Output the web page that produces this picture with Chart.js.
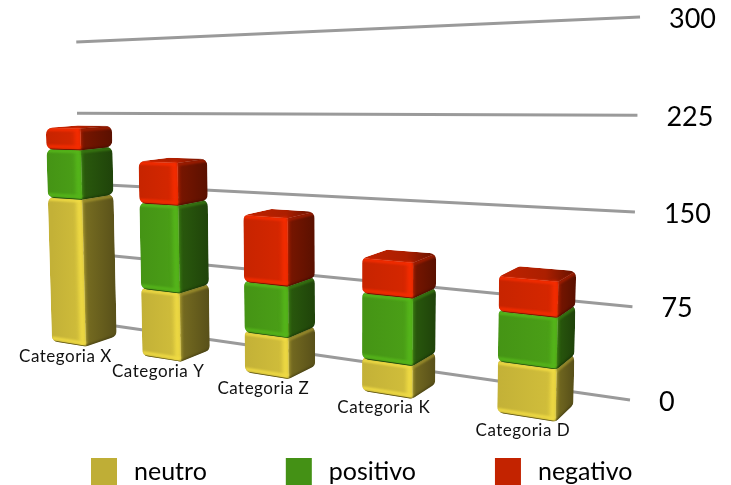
<!DOCTYPE html>
<html>
<head>
<meta charset="utf-8">
<title>Categorias</title>
<style>
  html, body { margin: 0; background: #fff; }
  canvas { display: block; }
</style>
<script src="https://cdn.jsdelivr.net/npm/chart.js@4/dist/chart.umd.js"></script>
</head>
<body>
<canvas id="boxes" width="731" height="485"></canvas>
<script>
const categories = ["Categoria X", "Categoria Y", "Categoria Z", "Categoria K", "Categoria D"];
const neutro = [145, 64, 36, 27, 40];
const positivo = [48, 81, 45, 55, 39];
const negativo = [21, 39, 59, 29, 27];
const seriesNames = ["neutro", "positivo", "negativo"];
const seriesColors = ["#bfae36", "#449115", "#c32300"];

// vanishing points of the three box directions, plus the foot of the value axis
const origin = { x: 630, y: 400 };
const vpRow = { x: -1400, y: 108 };
const vpUp = { x: 355, y: 10900 };
const vpDepth = { x: 930, y: 60 };
const rowPull = 0.3725;
const upPull = -0.0352;
const frontDepth = -0.08;
const backDepth = -0.033;

const uiFont = "Lato, 'Open Sans', sans-serif";

function project(area, px, py, depth) {
  const a = rowPull * (area.right - px) / area.width;
  const t = upPull * (area.bottom - py) / area.height;
  const w = 1 + a + t + depth;
  return {
    x: (origin.x + a * vpRow.x + t * vpUp.x + depth * vpDepth.x) / w,
    y: (origin.y + a * vpRow.y + t * vpUp.y + depth * vpDepth.y) / w,
  };
}

function shade(hex, f) {
  const n = parseInt(hex.slice(1), 16);
  const c = [n >> 16, (n >> 8) & 255, n & 255].map((v) => Math.min(255, Math.round(v * f)));
  return `rgb(${c[0]},${c[1]},${c[2]})`;
}

function roundedPath(ctx, pts, r) {
  const last = pts[pts.length - 1];
  const first = pts[0];
  ctx.beginPath();
  ctx.moveTo((last.x + first.x) / 2, (last.y + first.y) / 2);
  pts.forEach((p, i) => {
    const next = pts[(i + 1) % pts.length];
    ctx.arcTo(p.x, p.y, next.x, next.y, r);
  });
  ctx.closePath();
}

function fillQuad(ctx, pts, style) {
  ctx.beginPath();
  pts.forEach((p, i) => (i ? ctx.lineTo(p.x, p.y) : ctx.moveTo(p.x, p.y)));
  ctx.closePath();
  ctx.fillStyle = style;
  ctx.fill();
}

function softLine(ctx, a, b, color, width, blur, dx = 0, dy = 0) {
  ctx.save();
  ctx.filter = `blur(${blur}px)`;
  ctx.strokeStyle = color;
  ctx.lineWidth = width;
  ctx.beginPath();
  ctx.moveTo(a.x + dx, a.y + dy);
  ctx.lineTo(b.x + dx, b.y + dy);
  ctx.stroke();
  ctx.restore();
}

// the stacked rects from the bar controller, drawn as rounded boxes
function drawBox(ctx, area, bar, color) {
  const left = bar.x - bar.width / 2;
  const right = bar.x + bar.width / 2;
  const P = (px, py, d) => project(area, px, py, d);

  const fl0 = P(left, bar.base, frontDepth);
  const fr0 = P(right, bar.base, frontDepth);
  const br0 = P(right, bar.base, backDepth);
  const fl1 = P(left, bar.y, frontDepth);
  const fr1 = P(right, bar.y, frontDepth);
  const br1 = P(right, bar.y, backDepth);
  const bl1 = P(left, bar.y, backDepth);

  ctx.save();
  roundedPath(ctx, [fl0, fr0, br0, br1, bl1, fl1], 7);
  ctx.clip();

  const front = ctx.createLinearGradient(fl0.x, 0, fr0.x, 0);
  front.addColorStop(0, shade(color, 1.02));
  front.addColorStop(1, shade(color, 1.1));
  fillQuad(ctx, [fl0, fr0, fr1, fl1], front);

  const side = ctx.createLinearGradient(fr0.x, 0, br0.x, 0);
  side.addColorStop(0, shade(color, 0.62));
  side.addColorStop(1, shade(color, 0.46));
  fillQuad(ctx, [fr0, br0, br1, fr1], side);

  const top = ctx.createLinearGradient(fl1.x, 0, br1.x, 0);
  top.addColorStop(0, shade(color, 0.98));
  top.addColorStop(0.6, shade(color, 0.88));
  top.addColorStop(1, shade(color, 0.5));
  fillQuad(ctx, [fl1, fr1, br1, bl1], top);

  // soft bevels along the visible edges
  softLine(ctx, fr0, fr1, shade(color, 1.28), 5, 2, -3);
  softLine(ctx, fl1, fr1, shade(color, 1.28), 2.5, 1, 0, 1.5);
  softLine(ctx, fr1, br1, shade(color, 0.85), 2.5, 1, 0, 1.5);
  softLine(ctx, fl0, fr0, shade(color, 1.25), 3, 1, 0, -3);
  softLine(ctx, fl0, fr0, shade(color, 0.5), 1.5, 0.7);
  softLine(ctx, fr0, br0, shade(color, 0.35), 2, 0.8);
  ctx.restore();
}

const boxScene = {
  id: "boxScene",
  // returning false keeps the flat bars from being painted
  beforeDatasetsDraw(chart) {
    const { ctx, chartArea: area, scales, data } = chart;
    ctx.save();
    ctx.strokeStyle = "#9a9a9a";
    ctx.lineWidth = 3;
    ctx.fillStyle = "#000";
    ctx.font = `27px ${uiFont}`;
    ctx.textBaseline = "middle";
    scales.y.ticks.forEach((tick) => {
      const py = scales.y.getPixelForValue(tick.value);
      const a = project(area, area.left + 6 * tick.value / scales.y.max, py, 0);
      const b = project(area, area.right, py, 0);
      ctx.beginPath();
      ctx.moveTo(a.x, a.y);
      ctx.lineTo(b.x, b.y);
      ctx.stroke();
      ctx.fillText(tick.value, b.x + 29, b.y + 2);
    });
    ctx.restore();

    // bottom of the stack first so the upper box sits on the lower one
    data.datasets.forEach((dataset, i) => {
      chart.getDatasetMeta(i).data.forEach((bar) => {
        drawBox(ctx, area, bar, dataset.backgroundColor);
      });
    });
    return false;
  },
  afterDraw(chart) {
    const { ctx, chartArea: area, scales, data } = chart;
    const meta = chart.getDatasetMeta(0);
    ctx.save();
    ctx.fillStyle = "#111";
    ctx.font = `17px ${uiFont}`;
    ctx.letterSpacing = "0.5px";
    ctx.textAlign = "center";
    ctx.textBaseline = "middle";
    categories.forEach((name, i) => {
      const bar = meta.data[i];
      const py = scales.y.getPixelForValue(0);
      const a = project(area, bar.x - bar.width / 2, py, frontDepth);
      const b = project(area, bar.x + bar.width / 2, py, frontDepth);
      ctx.fillText(name, (a.x + b.x) / 2 - 3.5, (a.y + b.y) / 2 + 13);
    });
    ctx.restore();

    const box = 26;
    const textGap = 17;
    const itemGap = 79;
    ctx.save();
    ctx.font = `25px ${uiFont}`;
    ctx.textBaseline = "middle";
    let x = 91;
    data.datasets.forEach((d) => {
      ctx.fillStyle = d.backgroundColor;
      ctx.fillRect(x, 458, box, 27);
      ctx.fillStyle = "#000";
      ctx.fillText(d.label, x + box + textGap, 472);
      x += box + textGap + ctx.measureText(d.label).width + itemGap;
    });
    ctx.restore();
  },
};

new Chart(document.getElementById("boxes"), {
  type: "bar",
  data: {
    labels: categories,
    datasets: [
      { label: seriesNames[0], data: neutro, backgroundColor: seriesColors[0] },
      { label: seriesNames[1], data: positivo, backgroundColor: seriesColors[1] },
      { label: seriesNames[2], data: negativo, backgroundColor: seriesColors[2] },
    ],
  },
  options: {
    responsive: false,
    animation: false,
    layout: { padding: { left: 80, right: 101, top: 17, bottom: 85 } },
    datasets: { bar: { barPercentage: 0.39, categoryPercentage: 1 } },
    plugins: { legend: { display: false }, tooltip: { enabled: false } },
    scales: {
      x: { stacked: true, display: false },
      y: { stacked: true, display: false, min: 0, max: 300, ticks: { stepSize: 75 } },
    },
  },
  plugins: [boxScene],
});
</script>
</body>
</html>
